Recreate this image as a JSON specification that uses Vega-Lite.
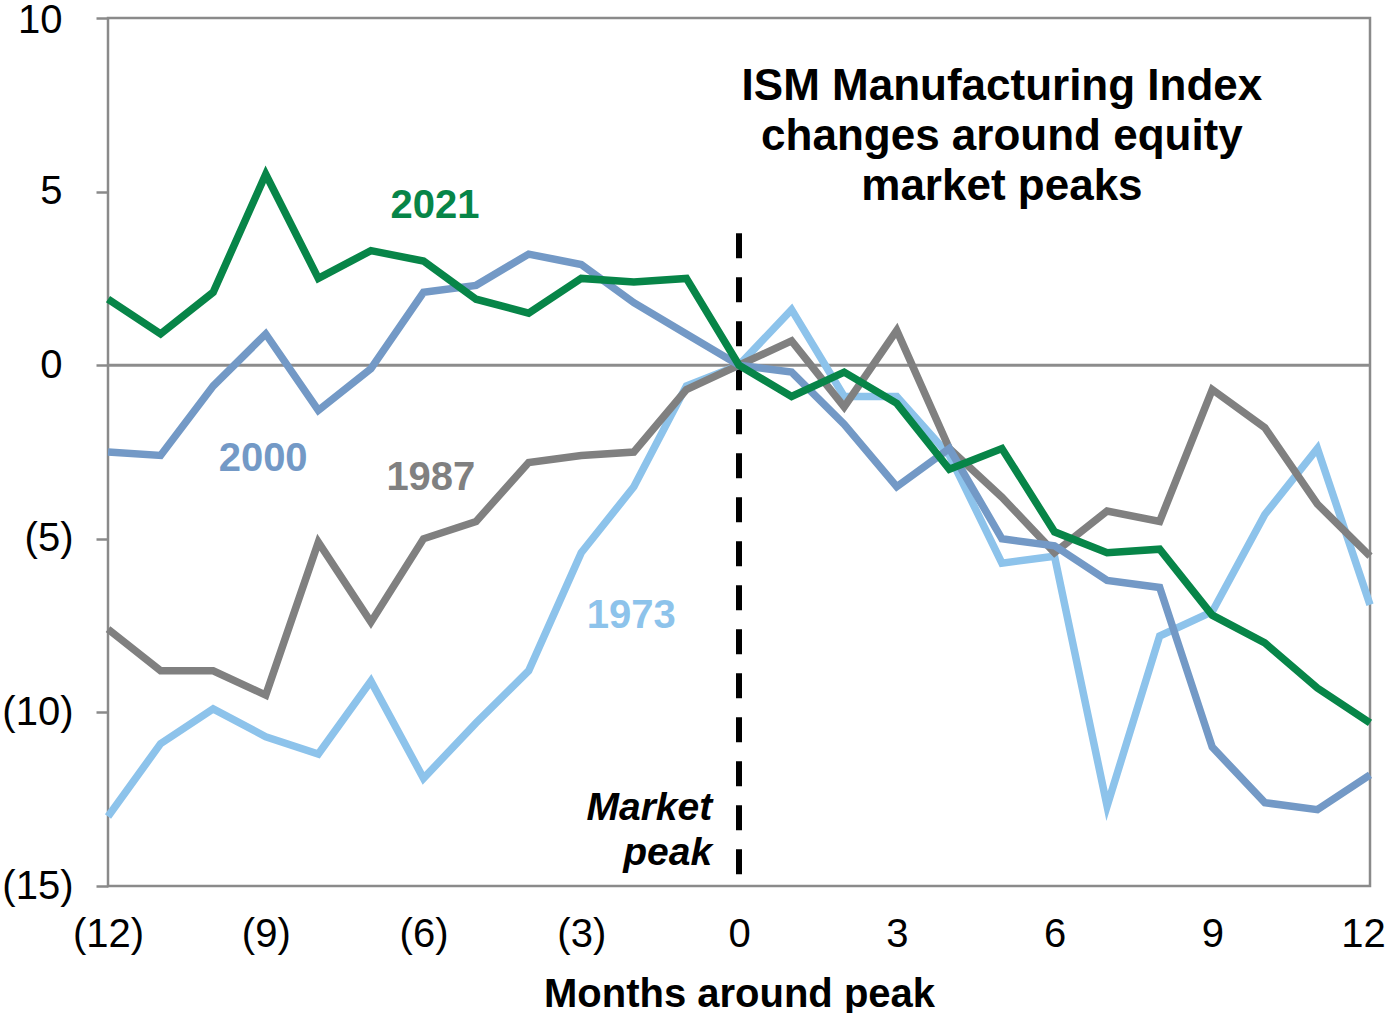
{
  "$schema": "https://vega.github.io/schema/vega-lite/v6.json",
  "width": 1262,
  "height": 868,
  "autosize": "none",
  "padding": {"left": 108, "top": 18, "right": 16, "bottom": 127},
  "background": "white",
  "config": {
    "view": {"stroke": "#8a8a8a", "strokeWidth": 2.5},
    "font": "Liberation Sans"
  },
  "datasets": {
    "series": [
      {"m": -12, "s": "1973", "v": -13.0}, {"m": -11, "s": "1973", "v": -10.9}, {"m": -10, "s": "1973", "v": -9.9}, {"m": -9, "s": "1973", "v": -10.7}, {"m": -8, "s": "1973", "v": -11.2}, {"m": -7, "s": "1973", "v": -9.1}, {"m": -6, "s": "1973", "v": -11.9}, {"m": -5, "s": "1973", "v": -10.3}, {"m": -4, "s": "1973", "v": -8.8}, {"m": -3, "s": "1973", "v": -5.4}, {"m": -2, "s": "1973", "v": -3.5}, {"m": -1, "s": "1973", "v": -0.6}, {"m": 0, "s": "1973", "v": 0}, {"m": 1, "s": "1973", "v": 1.6}, {"m": 2, "s": "1973", "v": -0.9}, {"m": 3, "s": "1973", "v": -0.9}, {"m": 4, "s": "1973", "v": -2.6}, {"m": 5, "s": "1973", "v": -5.7}, {"m": 6, "s": "1973", "v": -5.5}, {"m": 7, "s": "1973", "v": -12.7}, {"m": 8, "s": "1973", "v": -7.8}, {"m": 9, "s": "1973", "v": -7.1}, {"m": 10, "s": "1973", "v": -4.3}, {"m": 11, "s": "1973", "v": -2.4}, {"m": 12, "s": "1973", "v": -6.9},
      {"m": -12, "s": "1987", "v": -7.6}, {"m": -11, "s": "1987", "v": -8.8}, {"m": -10, "s": "1987", "v": -8.8}, {"m": -9, "s": "1987", "v": -9.5}, {"m": -8, "s": "1987", "v": -5.1}, {"m": -7, "s": "1987", "v": -7.4}, {"m": -6, "s": "1987", "v": -5.0}, {"m": -5, "s": "1987", "v": -4.5}, {"m": -4, "s": "1987", "v": -2.8}, {"m": -3, "s": "1987", "v": -2.6}, {"m": -2, "s": "1987", "v": -2.5}, {"m": -1, "s": "1987", "v": -0.7}, {"m": 0, "s": "1987", "v": 0}, {"m": 1, "s": "1987", "v": 0.7}, {"m": 2, "s": "1987", "v": -1.2}, {"m": 3, "s": "1987", "v": 1.0}, {"m": 4, "s": "1987", "v": -2.4}, {"m": 5, "s": "1987", "v": -3.8}, {"m": 6, "s": "1987", "v": -5.4}, {"m": 7, "s": "1987", "v": -4.2}, {"m": 8, "s": "1987", "v": -4.5}, {"m": 9, "s": "1987", "v": -0.7}, {"m": 10, "s": "1987", "v": -1.8}, {"m": 11, "s": "1987", "v": -4.0}, {"m": 12, "s": "1987", "v": -5.5},
      {"m": -12, "s": "2000", "v": -2.5}, {"m": -11, "s": "2000", "v": -2.6}, {"m": -10, "s": "2000", "v": -0.6}, {"m": -9, "s": "2000", "v": 0.9}, {"m": -8, "s": "2000", "v": -1.3}, {"m": -7, "s": "2000", "v": -0.1}, {"m": -6, "s": "2000", "v": 2.1}, {"m": -5, "s": "2000", "v": 2.3}, {"m": -4, "s": "2000", "v": 3.2}, {"m": -3, "s": "2000", "v": 2.9}, {"m": -2, "s": "2000", "v": 1.8}, {"m": -1, "s": "2000", "v": 0.9}, {"m": 0, "s": "2000", "v": 0}, {"m": 1, "s": "2000", "v": -0.2}, {"m": 2, "s": "2000", "v": -1.7}, {"m": 3, "s": "2000", "v": -3.5}, {"m": 4, "s": "2000", "v": -2.4}, {"m": 5, "s": "2000", "v": -5.0}, {"m": 6, "s": "2000", "v": -5.2}, {"m": 7, "s": "2000", "v": -6.2}, {"m": 8, "s": "2000", "v": -6.4}, {"m": 9, "s": "2000", "v": -11.0}, {"m": 10, "s": "2000", "v": -12.6}, {"m": 11, "s": "2000", "v": -12.8}, {"m": 12, "s": "2000", "v": -11.8},
      {"m": -12, "s": "2021", "v": 1.9}, {"m": -11, "s": "2021", "v": 0.9}, {"m": -10, "s": "2021", "v": 2.1}, {"m": -9, "s": "2021", "v": 5.5}, {"m": -8, "s": "2021", "v": 2.5}, {"m": -7, "s": "2021", "v": 3.3}, {"m": -6, "s": "2021", "v": 3.0}, {"m": -5, "s": "2021", "v": 1.9}, {"m": -4, "s": "2021", "v": 1.5}, {"m": -3, "s": "2021", "v": 2.5}, {"m": -2, "s": "2021", "v": 2.4}, {"m": -1, "s": "2021", "v": 2.5}, {"m": 0, "s": "2021", "v": 0}, {"m": 1, "s": "2021", "v": -0.9}, {"m": 2, "s": "2021", "v": -0.2}, {"m": 3, "s": "2021", "v": -1.1}, {"m": 4, "s": "2021", "v": -3.0}, {"m": 5, "s": "2021", "v": -2.4}, {"m": 6, "s": "2021", "v": -4.8}, {"m": 7, "s": "2021", "v": -5.4}, {"m": 8, "s": "2021", "v": -5.3}, {"m": 9, "s": "2021", "v": -7.2}, {"m": 10, "s": "2021", "v": -8.0}, {"m": 11, "s": "2021", "v": -9.3}, {"m": 12, "s": "2021", "v": -10.3}
    ],
    "labels": [
      {"m": -5.78, "v": 4.23, "t": "2021", "s": "2021"},
      {"m": -9.05, "v": -3.05, "t": "2000", "s": "2000"},
      {"m": -5.86, "v": -3.6, "t": "1987", "s": "1987"},
      {"m": -2.05, "v": -7.57, "t": "1973", "s": "1973"}
    ],
    "title": [
      {"m": 5.0, "v": 7.63, "t": "ISM Manufacturing Index"},
      {"m": 5.0, "v": 6.19, "t": "changes around equity"},
      {"m": 5.0, "v": 4.75, "t": "market peaks"}
    ],
    "peak": [
      {"m": -0.51, "v": -13.1, "t": "Market"},
      {"m": -0.51, "v": -14.4, "t": "peak"}
    ]
  },
  "layer": [
    {
      "data": {"values": [{"z": 0}]},
      "mark": {"type": "rule", "color": "#8c8c8c", "strokeWidth": 3},
      "encoding": {
        "y": {"field": "z", "type": "quantitative", "scale": {"domain": [-15, 10], "nice": false, "zero": false}}
      }
    },
    {
      "data": {"values": [{"m": 0, "a": 3.8, "b": -15}]},
      "mark": {"type": "rule", "color": "#000000", "strokeWidth": 6, "strokeDash": [25, 19]},
      "encoding": {
        "x": {"field": "m", "type": "quantitative", "scale": {"domain": [-12, 12], "nice": false, "zero": false}},
        "y": {"field": "a", "type": "quantitative"},
        "y2": {"field": "b"}
      }
    },
    {
      "data": {"name": "series"},
      "mark": {"type": "line", "strokeWidth": 7.5, "strokeJoin": "miter"},
      "encoding": {
        "x": {
          "field": "m", "type": "quantitative",
          "scale": {"domain": [-12, 12], "nice": false, "zero": false},
          "axis": {
            "values": [-12, -9, -6, -3, 0, 3, 6, 9, 12],
            "labelExpr": "datum.value < 0 ? '(' + abs(datum.value) + ')' : '' + datum.value",
            "domain": false, "ticks": false, "grid": false,
            "labelFlush": false, "labelOverlap": false,
            "labelOffset": {"condition": {"test": "datum.value == 12", "value": -7}, "value": 0},
            "labelFontSize": 40, "labelColor": "#000000", "labelPadding": 28,
            "labelFont": "Liberation Sans",
            "title": "Months around peak",
            "titleFont": "Liberation Sans", "titleFontSize": 40, "titleFontWeight": "bold",
            "titleColor": "#000000", "titleBaseline": "alphabetic", "titleY": 120
          }
        },
        "y": {
          "field": "v", "type": "quantitative",
          "scale": {"domain": [-15, 10], "nice": false, "zero": false},
          "axis": {
            "values": [-15, -10, -5, 0, 5, 10],
            "labelExpr": "datum.value < 0 ? '(' + abs(datum.value) + ')' : '' + datum.value",
            "domain": false, "grid": false,
            "ticks": true, "tickSize": 12, "tickColor": "#8a8a8a", "tickWidth": 2.5,
            "labelFlush": false, "labelOverlap": false,
            "labelOffset": {"condition": {"test": "datum.value == 10", "value": 2}, "value": 0},
            "labelFontSize": 40, "labelColor": "#000000",
            "labelPadding": {"condition": {"test": "datum.value < 0", "value": 23}, "value": 34},
            "labelFont": "Liberation Sans",
            "title": null
          }
        },
        "color": {
          "field": "s", "type": "nominal",
          "scale": {"domain": ["1973", "1987", "2000", "2021"], "range": ["#8dc3eb", "#808080", "#7399c6", "#078548"]},
          "legend": null
        }
      }
    },
    {
      "data": {"name": "labels"},
      "mark": {"type": "text", "font": "Liberation Sans", "fontSize": 40, "fontWeight": "bold", "align": "center", "baseline": "alphabetic"},
      "encoding": {
        "x": {"field": "m", "type": "quantitative"},
        "y": {"field": "v", "type": "quantitative"},
        "text": {"field": "t"},
        "color": {"field": "s", "type": "nominal", "legend": null}
      }
    },
    {
      "data": {"name": "title"},
      "mark": {"type": "text", "font": "Liberation Sans", "fontSize": 44, "fontWeight": "bold", "align": "center", "baseline": "alphabetic", "color": "#000000"},
      "encoding": {
        "x": {"field": "m", "type": "quantitative"},
        "y": {"field": "v", "type": "quantitative"},
        "text": {"field": "t"}
      }
    },
    {
      "data": {"name": "peak"},
      "mark": {"type": "text", "font": "Liberation Sans", "fontSize": 39, "fontWeight": "bold", "fontStyle": "italic", "align": "right", "baseline": "alphabetic", "color": "#000000"},
      "encoding": {
        "x": {"field": "m", "type": "quantitative"},
        "y": {"field": "v", "type": "quantitative"},
        "text": {"field": "t"}
      }
    }
  ]
}
